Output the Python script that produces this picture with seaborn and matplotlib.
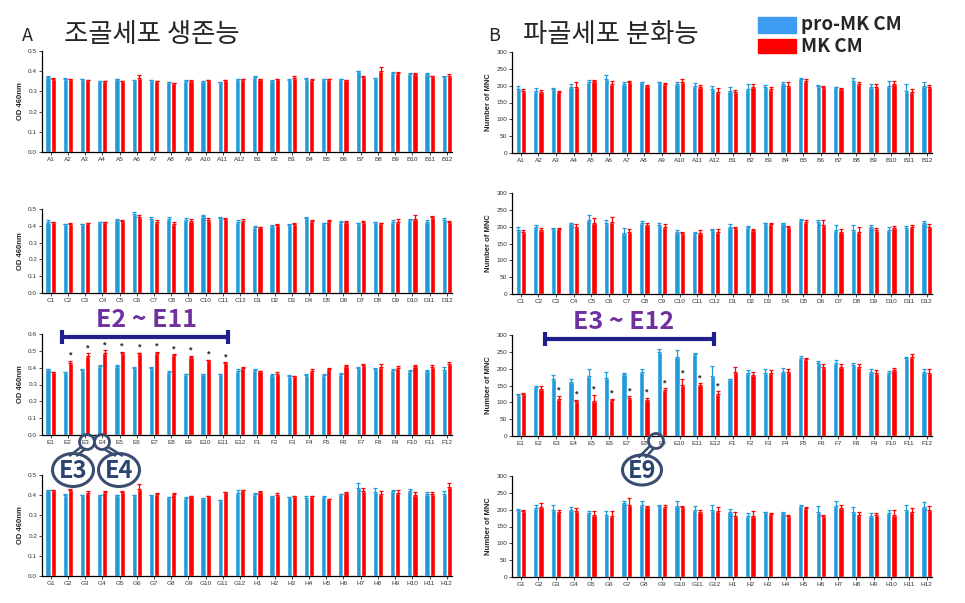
import numpy as np
import pandas as pd
import matplotlib
matplotlib.use("Agg")
import matplotlib.pyplot as plt
from matplotlib.patches import Ellipse, Circle, Rectangle
import seaborn as sns

# ---- data ----
rows_ab = [f"A{i}" for i in range(1, 13)] + [f"B{i}" for i in range(1, 13)]
rows_cd = [f"C{i}" for i in range(1, 13)] + [f"D{i}" for i in range(1, 13)]
rows_ef = [f"E{i}" for i in range(1, 13)] + [f"F{i}" for i in range(1, 13)]
rows_gh = [f"G{i}" for i in range(1, 13)] + [f"H{i}" for i in range(1, 13)]

# A: osteoblast viability (OD 460nm)
od_ab_pro = [0.37, 0.36, 0.36, 0.35, 0.36, 0.355, 0.355, 0.345, 0.35, 0.35, 0.345, 0.36,
             0.37, 0.35, 0.355, 0.36, 0.36, 0.36, 0.40, 0.365, 0.39, 0.385, 0.385, 0.37]
od_ab_mk = [0.36, 0.36, 0.355, 0.35, 0.35, 0.365, 0.35, 0.34, 0.35, 0.355, 0.355, 0.36,
            0.36, 0.36, 0.365, 0.355, 0.36, 0.355, 0.37, 0.40, 0.39, 0.385, 0.375, 0.375]
od_ab_pro_err = [0.008, 0.006, 0.003, 0.003, 0.003, 0.003, 0.002, 0.003, 0.004, 0.003, 0.004, 0.002,
                 0.007, 0.004, 0.008, 0.004, 0.003, 0.003, 0.002, 0.003, 0.008, 0.008, 0.005, 0.008]
od_ab_mk_err = [0.004, 0.003, 0.002, 0.003, 0.003, 0.015, 0.003, 0.004, 0.004, 0.003, 0.003, 0.002,
                0.002, 0.003, 0.010, 0.006, 0.002, 0.002, 0.004, 0.020, 0.008, 0.008, 0.003, 0.010]

od_cd_pro = [0.42, 0.41, 0.41, 0.42, 0.435, 0.47, 0.44, 0.44, 0.435, 0.46, 0.445, 0.425,
             0.395, 0.40, 0.405, 0.445, 0.415, 0.425, 0.415, 0.42, 0.42, 0.435, 0.425, 0.435]
od_cd_mk = [0.42, 0.41, 0.415, 0.42, 0.43, 0.455, 0.42, 0.41, 0.43, 0.435, 0.44, 0.43,
            0.39, 0.405, 0.41, 0.43, 0.43, 0.42, 0.425, 0.415, 0.42, 0.44, 0.45, 0.425]
od_cd_pro_err = [0.012, 0.003, 0.003, 0.003, 0.006, 0.010, 0.015, 0.010, 0.010, 0.005, 0.005, 0.008,
                 0.004, 0.005, 0.003, 0.005, 0.003, 0.004, 0.003, 0.004, 0.015, 0.004, 0.010, 0.010]
od_cd_mk_err = [0.005, 0.004, 0.003, 0.003, 0.003, 0.010, 0.012, 0.010, 0.008, 0.010, 0.004, 0.008,
                0.003, 0.004, 0.004, 0.003, 0.003, 0.008, 0.003, 0.003, 0.020, 0.025, 0.010, 0.004]

od_ef_pro = [0.39, 0.375, 0.385, 0.41, 0.41, 0.40, 0.40, 0.375, 0.36, 0.36, 0.36, 0.38,
             0.385, 0.355, 0.35, 0.355, 0.355, 0.365, 0.40, 0.39, 0.385, 0.38, 0.38, 0.385]
od_ef_mk = [0.372, 0.43, 0.47, 0.49, 0.485, 0.485, 0.49, 0.475, 0.465, 0.445, 0.425, 0.40,
            0.38, 0.36, 0.35, 0.38, 0.39, 0.41, 0.415, 0.405, 0.40, 0.41, 0.405, 0.42]
od_ef_pro_err = [0.003, 0.002, 0.010, 0.004, 0.003, 0.003, 0.003, 0.003, 0.003, 0.002, 0.002, 0.010,
                 0.005, 0.005, 0.005, 0.010, 0.005, 0.003, 0.003, 0.010, 0.005, 0.008, 0.006, 0.020]
od_ef_mk_err = [0.003, 0.010, 0.015, 0.012, 0.010, 0.005, 0.005, 0.005, 0.005, 0.003, 0.008, 0.003,
                0.003, 0.015, 0.003, 0.015, 0.010, 0.005, 0.005, 0.015, 0.010, 0.003, 0.010, 0.012]
od_ef_sig = ["E2", "E3", "E4", "E5", "E6", "E7", "E8", "E9", "E10", "E11"]

od_gh_pro = [0.425, 0.40, 0.40, 0.40, 0.40, 0.40, 0.40, 0.39, 0.385, 0.385, 0.375, 0.41,
             0.405, 0.395, 0.39, 0.385, 0.39, 0.405, 0.435, 0.415, 0.42, 0.42, 0.405, 0.405]
od_gh_mk = [0.425, 0.425, 0.41, 0.415, 0.415, 0.43, 0.405, 0.405, 0.395, 0.395, 0.415, 0.425,
            0.415, 0.40, 0.395, 0.395, 0.38, 0.41, 0.42, 0.405, 0.41, 0.40, 0.405, 0.44]
od_gh_pro_err = [0.002, 0.008, 0.003, 0.003, 0.003, 0.003, 0.003, 0.003, 0.008, 0.003, 0.002, 0.015,
                 0.005, 0.003, 0.003, 0.010, 0.005, 0.003, 0.025, 0.020, 0.005, 0.012, 0.010, 0.015]
od_gh_mk_err = [0.002, 0.005, 0.010, 0.008, 0.005, 0.025, 0.005, 0.005, 0.003, 0.003, 0.002, 0.003,
                0.005, 0.010, 0.003, 0.003, 0.002, 0.005, 0.015, 0.015, 0.015, 0.015, 0.012, 0.018]

# B: osteoclast differentiation (number of MNC)
mnc_ab_pro = [190, 185, 190, 195, 210, 220, 205, 210, 210, 205, 200, 190,
              185, 190, 195, 205, 220, 200, 195, 215, 195, 200, 185, 200]
mnc_ab_mk = [185, 180, 180, 195, 213, 205, 212, 200, 206, 212, 195, 180,
             180, 195, 190, 200, 215, 195, 190, 205, 195, 205, 180, 195]
mnc_ab_pro_err = [8, 7, 3, 10, 8, 12, 5, 2, 2, 5, 8, 8, 12, 15, 7, 5, 2, 3, 2, 8, 10, 15, 20, 10]
mnc_ab_mk_err = [5, 7, 5, 15, 3, 8, 3, 2, 3, 7, 7, 12, 8, 10, 5, 10, 5, 5, 2, 5, 10, 8, 10, 7]

mnc_cd_pro = [190, 200, 193, 210, 220, 210, 180, 210, 205, 185, 180, 190,
              200, 200, 210, 210, 220, 215, 190, 190, 200, 190, 195, 210]
mnc_cd_mk = [185, 190, 192, 200, 210, 215, 185, 205, 200, 180, 180, 185,
             195, 190, 208, 200, 215, 205, 185, 185, 190, 195, 200, 200]
mnc_cd_pro_err = [8, 5, 3, 2, 15, 10, 15, 8, 5, 5, 5, 3, 8, 3, 2, 2, 2, 5, 15, 15, 5, 8, 8, 8]
mnc_cd_mk_err = [5, 5, 3, 8, 15, 15, 8, 5, 8, 5, 10, 8, 5, 2, 2, 3, 5, 15, 8, 15, 5, 8, 5, 8]

mnc_ef_pro = [123, 145, 170, 160, 178, 172, 185, 190, 250, 235, 243, 178,
              168, 187, 188, 190, 232, 217, 217, 210, 190, 187, 232, 190]
mnc_ef_mk = [125, 140, 110, 103, 105, 107, 113, 108, 137, 152, 152, 125,
             190, 182, 188, 190, 228, 205, 205, 205, 187, 197, 236, 187]
mnc_ef_pro_err = [2, 3, 12, 8, 22, 18, 2, 10, 8, 20, 3, 30, 2, 10, 10, 12, 5, 5, 8, 8, 8, 5, 3, 10]
mnc_ef_mk_err = [3, 10, 10, 5, 18, 3, 5, 5, 5, 18, 5, 8, 15, 8, 7, 8, 3, 8, 8, 10, 8, 5, 7, 12]
mnc_ef_sig = ["E3", "E4", "E5", "E6", "E7", "E8", "E9", "E10", "E11", "E12"]

mnc_gh_pro = [200, 205, 200, 200, 190, 185, 220, 215, 212, 212, 200, 200,
              192, 180, 192, 190, 212, 192, 212, 192, 182, 190, 198, 207]
mnc_gh_mk = [197, 207, 192, 197, 185, 182, 215, 207, 208, 207, 192, 197,
             180, 180, 188, 182, 206, 180, 206, 185, 183, 185, 192, 200]
mnc_gh_pro_err = [3, 10, 15, 8, 5, 12, 7, 12, 3, 15, 12, 15, 10, 10, 2, 2, 3, 20, 15, 15, 8, 10, 15, 15]
mnc_gh_mk_err = [2, 12, 8, 8, 12, 15, 20, 5, 5, 5, 8, 10, 12, 15, 3, 3, 2, 3, 8, 8, 7, 15, 12, 10]

groups = ["pro-MK CM", "MK CM"]
colors = {"pro-MK CM": "#1E9BDB", "MK CM": "#FF0000"}

W, H = 965, 603

sns.set_style("ticks")
plt.rcParams["font.family"] = ["Liberation Sans", "DejaVu Sans"]


def draw_panel(rect, labels, pro, mk, pro_err, mk_err, ymax, ystep, ylabel, fmt, sig=()):
    ax = fig.add_axes(rect)
    df = pd.DataFrame({
        "well": labels * 2,
        "group": [groups[0]] * len(labels) + [groups[1]] * len(labels),
        "value": pro + mk,
    })
    sns.barplot(data=df, x="well", y="value", hue="group", hue_order=groups,
                palette=colors, width=0.6, saturation=1, errorbar=None,
                legend=False, ax=ax)
    for cont, g, err in zip(ax.containers, groups, [pro_err, mk_err]):
        xs = [b.get_x() + b.get_width() / 2 for b in cont]
        ys = [b.get_height() for b in cont]
        ax.errorbar(xs, ys, yerr=[np.zeros(len(err)), err], fmt="none",
                    ecolor=colors[g], elinewidth=0.9, capsize=1.6, capthick=0.9)
        if g == "MK CM":
            for lab, x, y, e in zip(labels, xs, ys, err):
                if lab in sig:
                    ax.text(x, y + e + ymax * 0.01, "*", ha="center", va="bottom",
                            fontsize=6.5, fontweight="bold")
    ax.set_xlim(-0.5, 23.3)
    ax.set_ylim(0, ymax)
    ax.set_yticks(np.arange(0, ymax + ystep / 2, ystep))
    ax.set_yticklabels([fmt.format(v) for v in np.arange(0, ymax + ystep / 2, ystep)])
    ax.tick_params(axis="both", labelsize=4.6, length=2, width=0.6, pad=1.5,
                   labelcolor="#333333")
    ax.set_xlabel("")
    ax.set_ylabel(ylabel, fontsize=5.5, fontweight="bold", labelpad=3)
    sns.despine(ax=ax)
    for s in ["left", "bottom"]:
        ax.spines[s].set_linewidth(0.9)
        ax.spines[s].set_color("black")
    ax.patch.set_alpha(0)
    return ax


fig = plt.figure(figsize=(W / 100, H / 100), dpi=100)


def rect(x0, x1, ytop, ybot):
    return [x0 / W, 1 - ybot / H, (x1 - x0) / W, (ybot - ytop) / H]


draw_panel(rect(42, 452, 51, 152), rows_ab, od_ab_pro, od_ab_mk, od_ab_pro_err, od_ab_mk_err,
           0.5, 0.1, "OD 460nm", "{:.1f}")
draw_panel(rect(42, 452, 209, 293), rows_cd, od_cd_pro, od_cd_mk, od_cd_pro_err, od_cd_mk_err,
           0.5, 0.1, "OD 460nm", "{:.1f}")
draw_panel(rect(42, 452, 334, 435), rows_ef, od_ef_pro, od_ef_mk, od_ef_pro_err, od_ef_mk_err,
           0.6, 0.1, "OD 460nm", "{:.1f}", sig=od_ef_sig)
draw_panel(rect(42, 452, 475, 576), rows_gh, od_gh_pro, od_gh_mk, od_gh_pro_err, od_gh_mk_err,
           0.5, 0.1, "OD 460nm", "{:.1f}")

draw_panel(rect(512, 932, 52, 153), rows_ab, mnc_ab_pro, mnc_ab_mk, mnc_ab_pro_err, mnc_ab_mk_err,
           300, 50, "Number of MNC", "{:.0f}")
draw_panel(rect(512, 932, 193, 294), rows_cd, mnc_cd_pro, mnc_cd_mk, mnc_cd_pro_err, mnc_cd_mk_err,
           300, 50, "Number of MNC", "{:.0f}")
draw_panel(rect(512, 932, 335, 436), rows_ef, mnc_ef_pro, mnc_ef_mk, mnc_ef_pro_err, mnc_ef_mk_err,
           300, 50, "Number of MNC", "{:.0f}", sig=mnc_ef_sig)
draw_panel(rect(512, 932, 476, 577), rows_gh, mnc_gh_pro, mnc_gh_mk, mnc_gh_pro_err, mnc_gh_mk_err,
           300, 50, "Number of MNC", "{:.0f}")

# overlay in pixel coordinates for headers, legend and callouts
ov = fig.add_axes([0, 0, 1, 1], zorder=10)
ov.set_xlim(0, W)
ov.set_ylim(H, 0)
ov.axis("off")
ov.patch.set_alpha(0)

kr = ["Noto Sans CJK KR", "DejaVu Sans"]
ov.text(22, 36, "A", fontsize=13, family=kr, va="center")
ov.text(64, 34, "조골세포 생존능", fontsize=19, family=kr, va="center")
ov.text(488, 36, "B", fontsize=13, family=kr, va="center")
ov.text(523, 34, "파골세포 분화능", fontsize=19, family=kr, va="center")

ov.add_patch(Rectangle((758, 17), 38, 16, color="#3D9BF2"))
ov.add_patch(Rectangle((758, 39), 38, 14, color="#FF0000"))
ov.text(801, 24, "pro-MK CM", fontsize=13.5, fontweight="bold", family=kr, va="center")
ov.text(801, 46, "MK CM", fontsize=13.5, fontweight="bold", family=kr, va="center")

# range brackets
navy = "#1E1E8C"
purple = "#7030A0"
for x0, x1, y, label, xt in [(62, 228, 337, "E2 ~ E11", 146), (545, 714, 339, "E3 ~ E12", 624)]:
    ov.plot([x0, x1], [y, y], color=navy, lw=3, solid_capstyle="butt")
    ov.plot([x0, x0], [y - 7, y + 7], color=navy, lw=3, solid_capstyle="butt")
    ov.plot([x1, x1], [y - 7, y + 7], color=navy, lw=3, solid_capstyle="butt")
    ov.text(xt, y - 17, label, color=purple, fontsize=18, fontweight="bold",
            family=kr, ha="center", va="center")

# callout bubbles
bub = "#3A4C70"
for (cx, cy), (bx, by), bw, bh, txt in [((87, 442), (73, 470), 41, 33, "E3"),
                                         ((102, 442), (119, 470), 41, 33, "E4"),
                                         ((656, 441), (642, 470), 39, 30, "E9")]:
    ov.add_patch(Circle((cx, cy), 7.5, fill=False, ec=bub, lw=2))
    ov.add_patch(Ellipse((bx, by), bw, bh, fill=False, ec=bub, lw=2.2))
    dx = 1 if bx > cx else -1
    tip_y = by - bh / 2 + 2
    ov.plot([cx + dx * 2, bx - 4 * dx], [cy + 7, tip_y], color=bub, lw=1.8)
    ov.plot([cx + dx * 6, bx + 3 * dx], [cy + 5, tip_y], color=bub, lw=1.8)
    ov.text(bx, by + 1, txt, color="#2C4470", fontsize=17, fontweight="bold",
            family=kr, ha="center", va="center")

fig.savefig("out.png", dpi=100)
